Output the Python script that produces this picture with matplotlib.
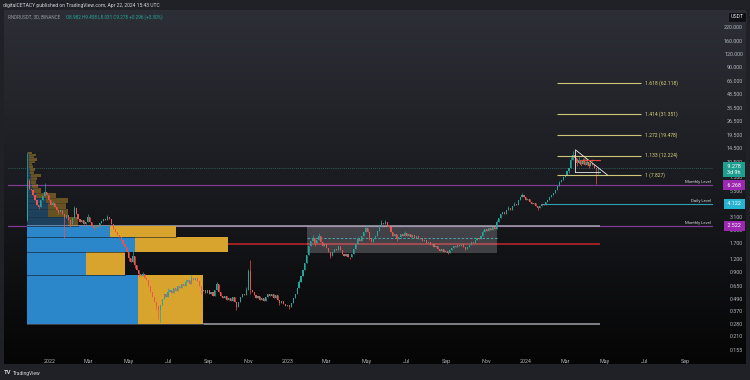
import numpy as np
import pandas as pd
import matplotlib
matplotlib.use("Agg")
import matplotlib.pyplot as plt
import matplotlib.dates as mdates
from matplotlib.colors import LinearSegmentedColormap
from matplotlib.patches import Rectangle
import matplotlib.transforms as mtransforms

plt.rcParams['font.family'] = ['Roboto', 'DejaVu Sans']

# ---------------- data ----------------
first_candle = "2021-11-27"
closes = [
    7.0, 5.8, 5.6, 5.0, 4.5, 4.0, 3.85, 4.5, 4.95, 5.4,
    5.0, 4.5, 4.0, 4.2, 3.85, 3.6, 3.45, 3.6, 3.3, 3.0,
    3.2, 2.9, 2.6, 3.0, 3.75, 3.3, 2.95, 2.75, 2.9, 2.6,
    2.75, 3.1, 2.75, 2.5, 2.4, 2.57, 2.45, 2.7, 2.8, 2.95,
    2.9, 3.1, 2.95, 2.6, 2.35, 2.2, 2.05, 1.95, 1.84, 1.68,
    1.56, 1.4, 1.23, 1.12, 1.28, 1.05, 0.94, 0.85, 0.82, 0.85,
    0.78, 0.75, 0.65, 0.57, 0.51, 0.46, 0.42, 0.38, 0.43, 0.49,
    0.54, 0.51, 0.57, 0.60, 0.56, 0.62, 0.58, 0.65, 0.62, 0.68,
    0.65, 0.71, 0.75, 0.68, 0.78, 0.75, 0.78, 0.73, 0.65, 0.58,
    0.60, 0.56, 0.60, 0.54, 0.57, 0.52, 0.60, 0.68, 0.57, 0.52,
    0.50, 0.52, 0.48, 0.50, 0.47, 0.51, 0.46, 0.41, 0.46, 0.51,
    0.55, 0.53, 0.60, 0.92, 0.60, 0.57, 0.53, 0.50, 0.52, 0.48,
    0.50, 0.47, 0.51, 0.54, 0.52, 0.54, 0.50, 0.53, 0.48, 0.45,
    0.47, 0.44, 0.42, 0.43, 0.41, 0.45, 0.50, 0.54, 0.62, 0.71,
    0.82, 0.94, 1.10, 1.31, 1.60, 1.80, 1.90, 1.72, 1.84, 2.00,
    1.75, 1.60, 1.68, 1.52, 1.40, 1.28, 1.40, 1.50, 1.47, 1.60,
    1.47, 1.33, 1.28, 1.33, 1.26, 1.24, 1.33, 1.50, 1.68, 1.88,
    1.80, 2.00, 2.20, 2.40, 2.20, 1.93, 1.75, 1.88, 2.00, 2.25,
    2.50, 2.70, 2.60, 2.75, 2.57, 2.45, 2.20, 2.00, 2.10, 1.88,
    1.95, 2.10, 2.00, 2.15, 2.00, 2.10, 1.95, 2.05, 1.93, 2.00,
    1.88, 1.93, 1.80, 1.84, 1.72, 1.75, 1.64, 1.68, 1.56, 1.60,
    1.50, 1.44, 1.50, 1.40, 1.44, 1.38, 1.47, 1.52, 1.60, 1.56,
    1.64, 1.60, 1.68, 1.56, 1.50, 1.56, 1.64, 1.75, 1.72, 1.84,
    1.93, 1.88, 2.00, 2.20, 2.35, 2.25, 2.40, 2.30, 2.45, 2.35,
    2.75, 3.00, 3.30, 3.45, 3.30, 3.60, 3.75, 3.60, 3.95, 4.10,
    4.00, 4.50, 4.80, 5.00, 4.80, 4.50, 4.60, 4.30, 4.10, 4.20,
    3.95, 3.75, 3.95, 4.10, 4.00, 4.30, 4.50, 4.80, 5.00, 5.30,
    5.64, 6.20, 6.70, 7.06, 7.50, 7.90, 8.70, 9.30, 11.1, 12.4,
    11.7, 10.4, 11.1, 10.2, 10.8, 9.9, 10.6, 9.7, 10.4, 9.8,
    9.2, 8.982, 9.278,
]
first_open = 2.9
wick_high = {0: 13.0, 1: 7.3, 9: 6.6, 13: 4.4, 24: 3.95, 31: 3.3, 41: 3.25, 54: 1.45,
             59: 0.9, 72: 0.63, 81: 0.76, 84: 0.84, 97: 0.72, 112: 0.64, 113: 0.95,
             114: 1.17, 139: 0.75, 146: 2.05, 149: 2.15, 169: 1.95, 173: 2.55, 181: 2.9,
             183: 2.85, 193: 2.25, 233: 2.3, 240: 2.9, 246: 3.9, 249: 4.35, 253: 5.3,
             272: 6.9, 278: 11.9, 279: 13.5, 282: 11.9, 284: 11.6, 286: 11.2, 292: 9.458}
wick_low = {0: 2.8, 6: 3.7, 16: 3.3, 19: 1.9, 22: 2.45, 34: 2.3, 52: 1.15, 55: 0.98,
            57: 0.8, 66: 0.39, 67: 0.31, 68: 0.29, 89: 0.55, 107: 0.38, 114: 0.55,
            129: 0.43, 134: 0.39, 147: 1.6, 155: 1.22, 165: 1.2, 175: 1.85, 189: 1.8,
            215: 1.33, 224: 1.45, 261: 3.6, 277: 8.2, 281: 9.6, 287: 9.2, 291: 6.4,
            292: 8.031}

# volume profile rows (lower price of each row, row height, up / down volume)
vp_low = [0.28, 0.84, 1.40, 1.96, 2.52, 3.08, 3.64, 4.20, 4.76, 5.32, 5.88, 6.44,
          7.00, 7.56, 8.12, 8.68, 9.24, 9.80, 10.36, 10.92, 11.48, 12.04, 12.60]
vp_step = 0.56
vp_up = [111, 59, 108, 83, 41, 21, 21, 19, 9, 6, 5, 4, 4, 4, 3, 3, 2, 2, 2, 2, 2, 2, 1]
vp_down = [65, 39, 93, 66, 10, 20, 18, 22, 20, 8, 6, 5, 6, 10, 4, 5, 4, 3, 6, 8, 5, 7, 4]
vp_value_rows = 4
vp_poc = 1.68

fib_ratio = ["1", "1.133", "1.272", "1.414", "1.618"]
fib_price = [7.827, 12.224, 19.478, 31.351, 62.118]

monthly_levels = [6.268, 2.522]
daily_level = 4.122
last_price = 9.278

range_low, range_high, range_mid = 1.37, 2.52, 1.90

y_ticks = [0.155, 0.21, 0.28, 0.37, 0.49, 0.65, 0.9, 1.2, 1.7, 2.3, 3.1, 5.5, 7.5,
           10.5, 14.5, 19.5, 26.5, 35.5, 48.5, 66, 90, 120, 160, 220]
x_tick_dates = ["2022-01-01", "2022-03-01", "2022-05-01", "2022-07-01", "2022-09-01",
                "2022-11-01", "2023-01-01", "2023-03-01", "2023-05-01", "2023-07-01",
                "2023-09-01", "2023-11-01", "2024-01-01", "2024-03-01", "2024-05-01",
                "2024-07-01", "2024-09-01"]
x_tick_labels = ["2022", "Mar", "May", "Jul", "Sep", "Nov", "2023", "Mar", "May", "Jul",
                 "Sep", "Nov", "2024", "Mar", "May", "Jul", "Sep"]

# ---------------- figure ----------------
W, H = 750, 380
fig = plt.figure(figsize=(7.5, 3.8), dpi=100)
fig.patch.set_facecolor('#1f2127')

def fx(px):
    return px / W

def fy(py):
    return 1 - py / H

# gradient chart pane
bg = fig.add_axes([fx(4), fy(364), (746 - 4) / W, (364 - 10) / H])
grad = np.linspace(0, 1, 256).reshape(-1, 1)
cmap = LinearSegmentedColormap.from_list('g', ['#2d2f36', '#1a1b20', '#050505'])
bg.imshow(grad, aspect='auto', cmap=cmap, extent=[0, 1, 0, 1])
bg.axis('off')

ax = fig.add_axes([fx(8), fy(355), (713 - 8) / W, (355 - 10) / H])
ax.set_facecolor('none')
ax.set_yscale('log')
ax.set_ylim(0.1384, 322)
d2022 = mdates.date2num(pd.Timestamp("2022-01-01"))
ax.set_xlim(d2022 - 64.4, d2022 + 1016.9)
for s in ax.spines.values():
    s.set_visible(False)

dates = pd.date_range(first_candle, periods=len(closes), freq='3D')
xd = mdates.date2num(dates.to_pydatetime())
c = np.array(closes)
o = np.concatenate([[first_open], c[:-1]])
hi = np.maximum(o, c).copy()
lo = np.minimum(o, c).copy()
for k, v in wick_high.items():
    hi[k] = max(hi[k], v)
for k, v in wick_low.items():
    lo[k] = min(lo[k], v)
up = c >= o
UPC, DNC = '#26a69a', '#ef5350'
cols = np.where(up, UPC, DNC)
btop = np.maximum(o, c)
bbot = np.minimum(o, c)
btop = np.where(btop / bbot < 1.012, bbot * 1.012, btop)

# volume profile
vp_x0 = xd[0] - 1.0
day_per_unit = 1.534
for i, (yl, u, d) in enumerate(zip(vp_low, vp_up, vp_down)):
    inside = i < vp_value_rows
    ax.add_patch(Rectangle((vp_x0, yl), u * day_per_unit, vp_step, facecolor='#2b87c9',
                           alpha=1.0 if inside else 0.38, edgecolor='none', zorder=2))
    ax.add_patch(Rectangle((vp_x0 + u * day_per_unit, yl), d * day_per_unit, vp_step,
                           facecolor='#d8a42e', alpha=1.0 if inside else 0.42,
                           edgecolor='none', zorder=2))
    ax.plot([vp_x0, vp_x0 + (u + d) * day_per_unit], [yl, yl], color='#101114', lw=0.5,
            zorder=2.1, alpha=0.8 if i < vp_value_rows + 1 else 0.3)
line_end = mdates.date2num(pd.Timestamp("2024-04-23"))
ax.hlines([vp_low[0], vp_low[vp_value_rows]], vp_x0, line_end, color='#a3a2ab', lw=1.1, zorder=1.5)
ax.hlines(vp_poc, vp_x0, line_end, color='#b5262b', lw=1.2, zorder=1.5)

# horizontal levels
for lv in monthly_levels:
    ax.axhline(lv, color='#7d3a92', lw=0.9, zorder=1.2)
ax.hlines(daily_level, mdates.date2num(pd.Timestamp("2024-01-24")), ax.get_xlim()[1],
          color='#2f9fb3', lw=0.8, zorder=1.2)
ax.axhline(last_price, color='#3e8a80', lw=0.6, ls=(0, (1, 1.5)), alpha=0.8, zorder=1.2)

# 2023 range box
r0 = mdates.date2num(pd.Timestamp("2023-01-30"))
r1 = mdates.date2num(pd.Timestamp("2023-11-17"))
ax.add_patch(Rectangle((r0, range_low), r1 - r0, range_high - range_low,
                       facecolor='#b9b9c2', alpha=0.28, edgecolor='none', zorder=1.8))
ax.hlines(range_mid, r0, r1, color='#4fb3c0', lw=0.6, ls=(0, (3, 2)), zorder=3)

# candles
ax.vlines(xd, lo, hi, colors=cols, lw=0.5, zorder=4)
ax.bar(xd, btop - bbot, bottom=bbot, width=1.7, color=cols, edgecolor='none', zorder=4.1)

# fib extension
f0 = mdates.date2num(pd.Timestamp("2024-02-18"))
f1 = mdates.date2num(pd.Timestamp("2024-06-26"))
flab = mdates.date2num(pd.Timestamp("2024-07-01"))
for r, p in zip(fib_ratio, fib_price):
    ax.hlines(p, f0, f1, color='#cfc777', lw=0.8, zorder=5)
    ax.text(flab, p, f"{r} ({p:.3f})", color='#d8d07e', fontsize=3.6, va='center',
            ha='left', zorder=5)

# triangle drawing
t = lambda s: mdates.date2num(pd.Timestamp(s))
ax.plot([t("2024-03-17"), t("2024-05-05")], [13.9, 7.9], color='#e8e8ee', lw=0.6, zorder=6)
ax.plot([t("2024-03-16"), t("2024-04-23")], [8.46, 8.46], color='#e8e8ee', lw=0.6, zorder=6)
ax.plot([t("2024-03-17"), t("2024-03-17")], [8.46, 13.9], color='#e8e8ee', lw=0.6, zorder=6)
ax.plot([t("2024-03-24"), t("2024-04-23")], [11.0, 11.0], color='#e0463f', lw=0.8, zorder=6)
ax.plot([t("2024-03-20"), t("2024-03-26"), t("2024-04-01"), t("2024-04-07"), t("2024-04-13")],
        [11.1, 9.8, 11.6, 9.8, 11.1], color='#e0a030', lw=0.6, ls=(0, (1, 1)), zorder=6)

# ticks
ax.yaxis.tick_right()
ax.set_yticks(y_ticks)
ax.set_yticklabels([f"{v:.3f}" for v in y_ticks])
ax.yaxis.set_minor_locator(matplotlib.ticker.NullLocator())
ax.tick_params(axis='y', length=0, pad=21.6, labelsize=3.9, colors='#b2b5be')
for lab in ax.get_yticklabels():
    lab.set_ha('right')
ax.set_xticks(mdates.date2num(pd.to_datetime(x_tick_dates).to_pydatetime()))
ax.set_xticklabels(x_tick_labels)
ax.tick_params(axis='x', length=0, pad=3, labelsize=3.9, colors='#b2b5be')

# level texts inside chart
tr = mtransforms.blended_transform_factory(ax.transAxes, ax.transData)
ax.text(0.997, monthly_levels[0] * 1.02, "Monthly Level", transform=tr, ha='right', va='bottom',
        fontsize=3.1, color='#d1d4dc', zorder=7)
ax.text(0.997, daily_level * 1.02, "Daily Level", transform=tr, ha='right', va='bottom',
        fontsize=3.1, color='#d1d4dc', zorder=7)
ax.text(0.997, monthly_levels[1] * 1.02, "Monthly Level", transform=tr, ha='right', va='bottom',
        fontsize=3.1, color='#d1d4dc', zorder=7)

# price axis boxes
trf = mtransforms.blended_transform_factory(fig.transFigure, ax.transData)
def pbox(price, text, bgc, tc='white'):
    ax.text(fx(734), price, text, transform=trf, ha='center', va='center', fontsize=3.9,
            color=tc, clip_on=False, zorder=10, linespacing=1.1,
            bbox=dict(boxstyle='square,pad=0.45', facecolor=bgc, edgecolor='none'))

pbox(last_price * 0.965, f" {last_price:.3f} \n3d 9h", '#1f9e8f')
pbox(monthly_levels[0], f" {monthly_levels[0]:.3f} ", '#9c27b0')
pbox(daily_level, f" {daily_level:.3f} ", '#27b3cf')
pbox(monthly_levels[1], f" {monthly_levels[1]:.3f} ", '#9c27b0')

fig.text(fx(737), fy(17), "USDT", ha='center', va='center', fontsize=3.8, color='#e0e3eb',
         bbox=dict(boxstyle='square,pad=0.5', facecolor='#0f1013', edgecolor='#3a3d45', lw=0.4))

# header
fig.text(fx(3), fy(5), "digitalCETACY published on TradingView.com, Apr 22, 2024 15:43 UTC",
         fontsize=3.6, color='#d1d4dc', va='center', ha='left')
fig.text(fx(8), fy(17), "RNDRUSDT, 3D, BINANCE", fontsize=3.3, color='#9598a1',
         va='center', ha='left')
fig.text(fx(66), fy(17), "O8.982 H9.458 L8.031 C9.278 +0.296 (+3.30%)", fontsize=3.3,
         color='#26a69a', va='center', ha='left')

# footer
fig.text(fx(4), fy(373), "TV", fontsize=4.2, color='#d1d4dc', fontweight='bold',
         va='center', ha='left')
fig.text(fx(13), fy(373), "TradingView", fontsize=3.6, color='#d1d4dc', va='center', ha='left')

fig.savefig("out.png", dpi=100, facecolor=fig.get_facecolor())
